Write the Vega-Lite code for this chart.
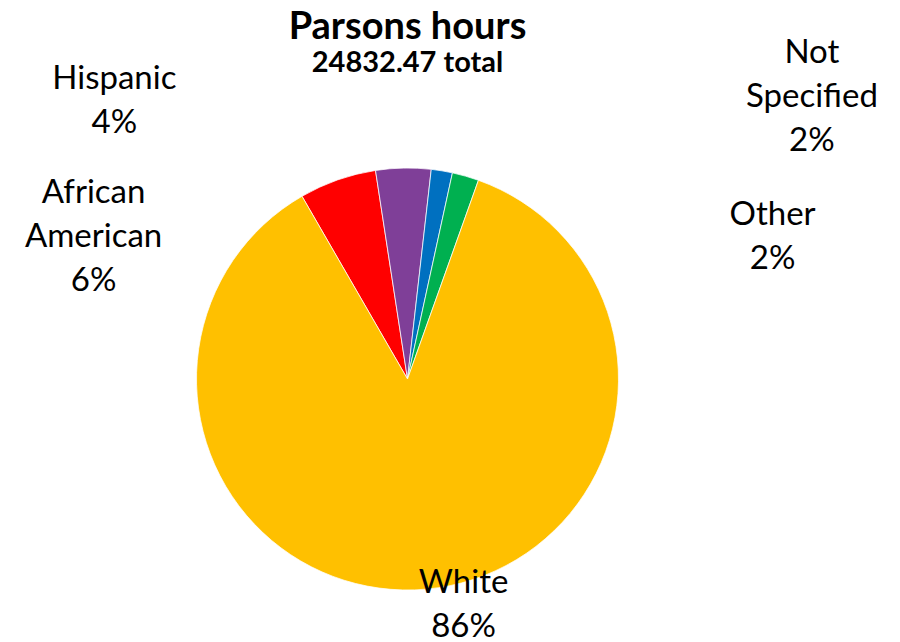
{
  "$schema": "https://vega.github.io/schema/vega-lite/v6.json",
  "width": 815,
  "height": 526,
  "autosize": {"type": "none"},
  "padding": {"left": 0, "top": 116, "right": 85, "bottom": 0},
  "background": "white",
  "title": {
    "text": "Parsons hours",
    "subtitle": "24832.47 total",
    "anchor": "middle",
    "font": "Lato",
    "fontSize": 38,
    "fontWeight": "bold",
    "color": "black",
    "subtitleFont": "Lato",
    "subtitleFontSize": 29,
    "subtitleFontWeight": "bold",
    "subtitleColor": "black",
    "subtitlePadding": 2,
    "offset": -41
  },
  "data": {
    "values": [
      {"group": "African American", "hours": 1467.6, "label": "African\nAmerican\n6%"},
      {"group": "Hispanic", "hours": 1047.9, "label": "Hispanic\n4%"},
      {"group": "Not Specified", "hours": 402.3, "label": "Not\nSpecified\n2%"},
      {"group": "Other", "hours": 506.6, "label": "Other\n2%"},
      {"group": "White", "hours": 21408.07, "label": "White\n86%"}
    ]
  },
  "encoding": {
    "theta": {
      "field": "hours",
      "type": "quantitative",
      "stack": true,
      "scale": {"range": [5.7596, 12.0428]}
    },
    "color": {
      "field": "group",
      "type": "nominal",
      "legend": null,
      "scale": {
        "domain": ["African American", "Hispanic", "Not Specified", "Other", "White"],
        "range": ["#FF0000", "#7F3F98", "#0070C0", "#00B050", "#FFC000"]
      }
    },
    "order": {"field": "group", "sort": "ascending"}
  },
  "layer": [
    {
      "mark": {"type": "arc", "outerRadius": 211, "stroke": "white", "strokeWidth": 0.75}
    },
    {
      "mark": {
        "type": "text",
        "radius": 211,
        "font": "Lato",
        "fontSize": 33,
        "align": "center",
        "baseline": "alphabetic",
        "lineBreak": "\n",
        "lineHeight": 44,
        "color": "black",
        "dx": {"expr": "datum.group === 'African American' ? -244 : datum.group === 'Hispanic' ? -289 : datum.group === 'Not Specified' ? 370 : datum.group === 'Other' ? 307 : 37"},
        "dy": {"expr": "datum.group === 'African American' ? 23 : datum.group === 'Hispanic' ? -79 : datum.group === 'Not Specified' ? -108 : datum.group === 'Other' ? 49 : 4"}
      },
      "encoding": {
        "text": {"field": "label"},
        "color": {"value": "black"}
      }
    }
  ]
}
